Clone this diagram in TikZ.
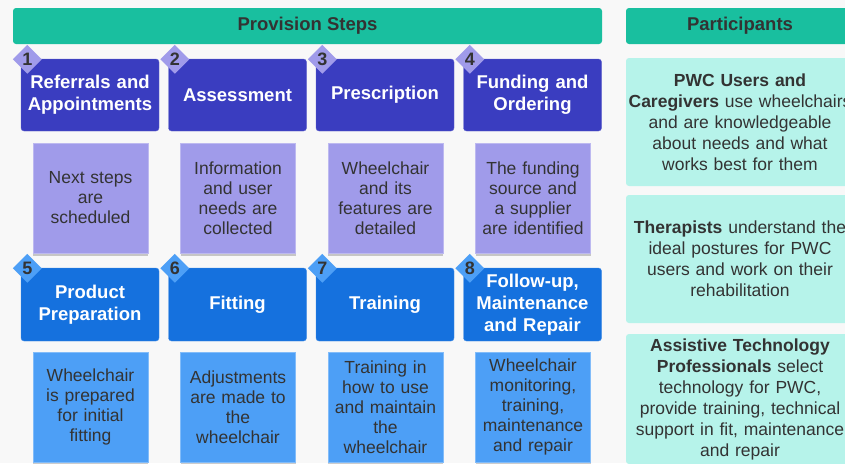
\documentclass[tikz,border=0pt]{standalone}
\usepackage{fontspec}
\setmainfont{Liberation Sans}
\usetikzlibrary{shapes.geometric, shadows}

\definecolor{pagebg}{HTML}{F8F8F8}
\definecolor{headteal}{HTML}{19BF9F}
\definecolor{indigo}{HTML}{3A3DC0}
\definecolor{indigolite}{HTML}{A09BEA}
\definecolor{azure}{HTML}{1571DE}
\definecolor{azurelite}{HTML}{4D9FF6}
\definecolor{mint}{HTML}{B6F3EA}
\definecolor{ink}{HTML}{333333}

\begin{document}
\begin{tikzpicture}[x=1pt, y=-1pt,
    % headers, steps, numbers, notes
    header/.style={fill=headteal, rounded corners=3pt, minimum height=36pt,
      inner sep=0pt, text=ink, font=\fontsize{18.5}{22}\selectfont\bfseries},
    stepbox/.style={rounded corners=3pt, minimum width=138pt, minimum height=72pt,
      text width=134pt, inner sep=2pt, align=center, text=white,
      font=\fontsize{18.5}{22}\selectfont\bfseries},
    badge/.style={diamond, minimum size=29pt, inner sep=0pt, text=ink,
      font=\fontsize{18}{18}\selectfont\bfseries},
    note/.style={minimum width=115pt, minimum height=110pt, text width=111pt,
      inner sep=2pt, align=center, text=ink, font=\fontsize{17.5}{20}\selectfont,
      drop shadow={shadow xshift=0pt, shadow yshift=-3pt, opacity=0.2, fill=black}},
    part/.style={fill=mint, rounded corners=3pt, minimum width=228pt,
      text width=224pt, inner sep=2pt, align=center, text=ink,
      font=\fontsize{17.5}{21}\selectfont}
  ]
  \useasboundingbox (0,0) rectangle (845,463);
  \clip (0,0) rectangle (845,463);
  \fill[pagebg] (0,0) rectangle (845,463);

  % column headers
  \node[header, minimum width=589pt] (steps) at (307.5,26) {Provision Steps};
  \node[header, minimum width=228pt] (parts) at (740,26) {Participants};

  % first row of steps
  \foreach \i/\t/\d in {
      1/{Referrals and\\Appointments}/{Next steps\\are\\scheduled},
      2/{Assessment}/{Information\\and user\\needs are\\collected},
      3/{Prescription}/{Wheelchair\\and its\\features are\\detailed},
      4/{Funding and\\Ordering}/{The funding\\source and\\a supplier\\are identified}} {
    \pgfmathsetmacro{\cx}{90+(\i-1)*147.5}
    \node[stepbox, fill=indigo, draw=indigo!80!white] (step\i) at (\cx,95) {\t};
    \node[note, fill=indigolite, draw=indigolite!70!white] (note\i) at (\cx+0.5,198) {\d};
    \node[badge, fill=indigolite] (badge\i) at ([xshift=6.5pt, yshift=-0.5pt]step\i.north west) {\i};
  }

  % second row of steps
  \foreach \i/\t/\d in {
      5/{Product\\Preparation}/{Wheelchair\\is prepared\\for initial\\fitting},
      6/{Fitting}/{Adjustments\\are made to\\the\\wheelchair},
      7/{Training}/{Training in\\how to use\\and maintain\\the\\wheelchair},
      8/{Follow-up,\\Maintenance\\and Repair}/{Wheelchair\\monitoring,\\training,\\maintenance\\and repair}} {
    \pgfmathsetmacro{\cx}{90+(\i-5)*147.5}
    \node[stepbox, fill=azure, draw=azure!80!white, minimum height=73pt] (step\i) at (\cx,304.5) {\t};
    \node[note, fill=azurelite, draw=azurelite!70!white] (note\i) at (\cx+0.5,407) {\d};
    \node[badge, fill=azurelite] (badge\i) at ([xshift=6.5pt, yshift=-0.5pt]step\i.north west) {\i};
  }

  % participants
  \node[part, minimum height=128pt] (users) at (740,122)
    {\textbf{PWC Users and}\\\textbf{Caregivers} use wheelchairs\\and are knowledgeable\\about needs and what\\works best for them};
  \node[part, minimum height=128pt] (therapists) at (740,259)
    {\textbf{Therapists} understand the\\ideal postures for PWC\\users and work on their\\rehabilitation};
  \node[part, minimum height=130pt] (atp) at (740,399)
    {\textbf{Assistive Technology}\\\textbf{Professionals} select\\technology for PWC,\\provide training, technical\\support in fit, maintenance\\and repair};
\end{tikzpicture}
\end{document}
